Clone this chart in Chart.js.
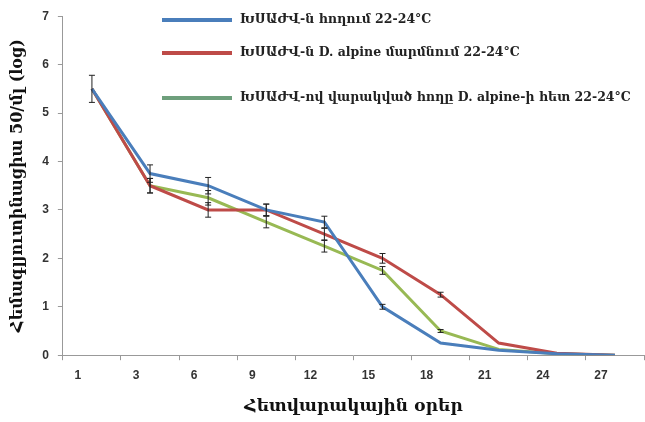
<!DOCTYPE html>
<html>
<head>
<meta charset="utf-8">
<script src="https://cdn.jsdelivr.net/npm/chart.js@4"></script>
<style>
  body { margin: 0; background: #fff; }
  canvas { display: block; }
</style>
</head>
<body>
<canvas id="grafico" width="645" height="422"></canvas>
<script>
// ---------------- DATOS ----------------
const dias = ["1", "3", "6", "9", "12", "15", "18", "21", "24", "27"];

const nombres = [
  "ԽՍԱԺՎ-ն հողում 22-24°C",
  "ԽՍԱԺՎ-ն D. alpine մարմնում 22-24°C",
  "ԽՍԱԺՎ-ով վարակված հողը D. alpine-ի հետ 22-24°C"
];

const serieAzul  = [5.5, 3.75, 3.5, 3.0, 2.75, 1.0, 0.25, 0.1, 0.03, 0];
const serieRoja  = [5.5, 3.5, 3.0, 3.0, 2.5, 2.0, 1.25, 0.25, 0.04, 0];
const serieVerde = [5.5, 3.5, 3.25, 2.75, 2.25, 1.75, 0.5, 0.12, 0.03, 0];

const errAzul  = [0.28, 0.18, 0.17, 0.12, 0.12, 0.05, 0, 0, 0, 0];
const errRoja  = [0, 0.15, 0.15, 0.12, 0.12, 0.1, 0.05, 0, 0, 0];
const errVerde = [0, 0.15, 0.15, 0.12, 0.12, 0.08, 0.03, 0, 0, 0];

const tituloY = "Հեմագլյուտինացիա 50/մլ (log)";
const tituloX = "Հետվարակային օրեր";

const colores = ["#4a7ebb", "#be4b48", "#98b954"];
const coloresLeyenda = ["#4a7ebb", "#be4b48", "#6e9f7c"];

// ---------------- PLUGINS ----------------
const barrasError = {
  id: "barrasError",
  afterDatasetsDraw(chart) {
    const ctx = chart.ctx;
    const x = chart.scales.x, y = chart.scales.y;
    const errores = [errAzul, errRoja, errVerde];
    ctx.save();
    ctx.strokeStyle = "#222";
    ctx.lineWidth = 1;
    chart.data.datasets.forEach((ds, i) => {
      ds.data.forEach((v, j) => {
        const e = errores[i][j];
        if (!e) return;
        const px = x.getPixelForValue(j);
        const y1 = y.getPixelForValue(v + e);
        const y2 = y.getPixelForValue(v - e);
        ctx.beginPath();
        ctx.moveTo(px, y1); ctx.lineTo(px, y2);
        ctx.moveTo(px - 3, y1); ctx.lineTo(px + 3, y1);
        ctx.moveTo(px - 3, y2); ctx.lineTo(px + 3, y2);
        ctx.stroke();
      });
    });
    ctx.restore();
  }
};

const leyenda = {
  id: "leyenda",
  afterDraw(chart) {
    const ctx = chart.ctx;
    const filas = [20, 53, 98];
    ctx.save();
    ctx.font = "bold 12.5px 'DejaVu Serif'";
    ctx.fillStyle = "#222";
    ctx.textBaseline = "middle";
    nombres.forEach((n, i) => {
      ctx.strokeStyle = coloresLeyenda[i];
      ctx.lineWidth = 4;
      ctx.beginPath();
      ctx.moveTo(162, filas[i]);
      ctx.lineTo(232, filas[i]);
      ctx.stroke();
      ctx.fillText(n, 240, filas[i]);
    });
    ctx.restore();
  }
};

// ---------------- GRÁFICO ----------------
const series = [serieAzul, serieRoja, serieVerde];

new Chart(document.getElementById("grafico"), {
  type: "line",
  data: {
    labels: dias,
    datasets: series.map((s, i) => ({
      label: nombres[i],
      data: s,
      borderColor: colores[i],
      borderWidth: 3,
      pointRadius: 0,
      tension: 0,
      fill: false
    }))
  },
  options: {
    responsive: false,
    animation: false,
    layout: { padding: { top: 6, right: 1, left: 4, bottom: 1 } },
    plugins: {
      legend: { display: false },
      tooltip: { enabled: false }
    },
    scales: {
      x: {
        offset: true,
        grid: { offset: true, drawOnChartArea: false, tickLength: 5, color: "#999" },
        border: { color: "#999" },
        ticks: {
          color: "#333",
          font: { family: "Liberation Sans", size: 12, weight: "bold" },
          labelOffset: -14,
          padding: 8,
          maxRotation: 0
        },
        title: {
          display: true,
          text: tituloX,
          color: "#111",
          font: { family: "DejaVu Serif", size: 17, weight: "bold" },
          padding: { top: 6 }
        }
      },
      y: {
        min: 0,
        max: 7,
        grid: { drawOnChartArea: false, tickLength: 5, color: "#999" },
        border: { color: "#999" },
        ticks: {
          stepSize: 1,
          color: "#333",
          font: { family: "Liberation Sans", size: 12, weight: "bold" },
          padding: 9
        },
        title: {
          display: true,
          text: tituloY,
          color: "#111",
          font: { family: "DejaVu Serif", size: 16, weight: "bold" },
          padding: { bottom: 6 }
        }
      }
    }
  },
  plugins: [barrasError, leyenda]
});
</script>
</body>
</html>
